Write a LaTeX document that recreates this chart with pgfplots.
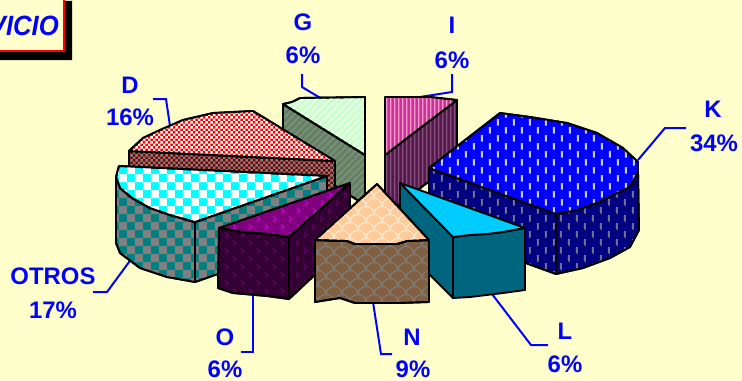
\documentclass[border=0pt]{standalone}
\usepackage{fontspec}
\setmainfont{Liberation Sans}
\usepackage{pgfplots}
\pgfplotsset{compat=1.18}
\usetikzlibrary{patterns}

\definecolor{paper}{HTML}{FFFFCC}
\definecolor{ink}{HTML}{0000FF}
\definecolor{pure}{HTML}{FF0000}
\definecolor{aqua}{HTML}{00FFFF}
\definecolor{gside}{HTML}{668066}
\definecolor{gsidep}{HTML}{7A927A}
\definecolor{gtop}{HTML}{CCFFCC}
\definecolor{gtopp}{HTML}{EAFFEA}
\definecolor{iside}{HTML}{55184D}
\definecolor{isidep}{HTML}{85507A}
\definecolor{itop}{HTML}{C8329B}
\definecolor{itopp}{HTML}{FF99CC}
\definecolor{dside}{HTML}{800000}
\definecolor{kside}{HTML}{000080}
\definecolor{ksidep}{HTML}{707094}
\definecolor{ktopp}{HTML}{CCCCFF}
\definecolor{oside}{HTML}{008080}
\definecolor{gray5}{HTML}{808080}
\definecolor{pside}{HTML}{330033}
\definecolor{psidep}{HTML}{660066}
\definecolor{ptop}{HTML}{800080}
\definecolor{ptopp}{HTML}{CC00CC}
\definecolor{lside}{HTML}{006680}
\definecolor{ltop}{HTML}{00CCFF}
\definecolor{nside}{HTML}{806040}
\definecolor{ntop}{HTML}{FFCC99}
\definecolor{ntopp}{HTML}{FFEEDD}

% checks
\pgfdeclarepatternformonly{bigcheck}{\pgfpointorigin}{\pgfqpoint{16pt}{16pt}}{\pgfqpoint{16pt}{16pt}}{%
  \pgfpathrectangle{\pgfpointorigin}{\pgfqpoint{8pt}{8pt}}%
  \pgfpathrectangle{\pgfqpoint{8pt}{8pt}}{\pgfqpoint{8pt}{8pt}}%
  \pgfusepath{fill}}
\pgfdeclarepatternformonly{smallcheck}{\pgfpointorigin}{\pgfqpoint{5.4pt}{5.4pt}}{\pgfqpoint{5.4pt}{5.4pt}}{%
  \pgfpathrectangle{\pgfpointorigin}{\pgfqpoint{2.7pt}{2.7pt}}%
  \pgfpathrectangle{\pgfqpoint{2.7pt}{2.7pt}}{\pgfqpoint{2.7pt}{2.7pt}}%
  \pgfusepath{fill}}
% K dashes
\pgfdeclarepatternformonly{dashes}{\pgfpointorigin}{\pgfqpoint{16pt}{16pt}}{\pgfqpoint{16pt}{16pt}}{%
  \pgfpathrectangle{\pgfqpoint{3pt}{0.5pt}}{\pgfqpoint{2pt}{6.5pt}}%
  \pgfpathrectangle{\pgfqpoint{11pt}{8.5pt}}{\pgfqpoint{2pt}{6.5pt}}%
  \pgfusepath{fill}}
% I stripes
\pgfdeclarepatternformonly{vstripes}{\pgfpointorigin}{\pgfqpoint{4pt}{4pt}}{\pgfqpoint{4pt}{4pt}}{%
  \pgfpathrectangle{\pgfpointorigin}{\pgfqpoint{1.4pt}{4pt}}%
  \pgfusepath{fill}}
% G stripes
\pgfdeclarepatternformonly{dstripes}{\pgfqpoint{-1pt}{-1pt}}{\pgfqpoint{8pt}{8pt}}{\pgfqpoint{7pt}{7pt}}{%
  \pgfsetlinewidth{1.6pt}%
  \pgfpathmoveto{\pgfqpoint{-1pt}{-1pt}}\pgfpathlineto{\pgfqpoint{8pt}{8pt}}%
  \pgfusepath{stroke}}
% O chevrons
\pgfdeclarepatternformonly{chevrons}{\pgfpointorigin}{\pgfqpoint{16pt}{16pt}}{\pgfqpoint{16pt}{16pt}}{%
  \pgfsetlinewidth{1.1pt}%
  \pgfpathmoveto{\pgfqpoint{2pt}{0.5pt}}\pgfpathlineto{\pgfqpoint{5pt}{3pt}}\pgfpathlineto{\pgfqpoint{2pt}{5.5pt}}%
  \pgfpathmoveto{\pgfqpoint{10pt}{8.5pt}}\pgfpathlineto{\pgfqpoint{13pt}{11pt}}\pgfpathlineto{\pgfqpoint{10pt}{13.5pt}}%
  \pgfusepath{stroke}}
% N scallops
\pgfdeclarepatternformonly{scallops}{\pgfqpoint{0pt}{0pt}}{\pgfqpoint{16pt}{16pt}}{\pgfqpoint{16pt}{16pt}}{%
  \pgfsetlinewidth{0.9pt}%
  \pgfpathmoveto{\pgfqpoint{0pt}{0pt}}\pgfpathcurveto{\pgfqpoint{0pt}{10pt}}{\pgfqpoint{16pt}{10pt}}{\pgfqpoint{16pt}{0pt}}%
  \pgfpathmoveto{\pgfqpoint{-8pt}{8pt}}\pgfpathcurveto{\pgfqpoint{-8pt}{18pt}}{\pgfqpoint{8pt}{18pt}}{\pgfqpoint{8pt}{8pt}}%
  \pgfpathmoveto{\pgfqpoint{8pt}{8pt}}\pgfpathcurveto{\pgfqpoint{8pt}{18pt}}{\pgfqpoint{24pt}{18pt}}{\pgfqpoint{24pt}{8pt}}%
  \pgfusepath{stroke}}

\tikzset{
  slice/.style n args={3}{draw=black,line width=1.9bp,line join=round,fill=#1,
    postaction={pattern=#2,pattern color=#3}},
  flat/.style={draw=black,line width=1.9bp,line join=round,fill=#1},
  leader/.style={draw=ink,line width=2bp,line join=miter},
  lab/.style={text=ink,font=\fontsize{24}{28}\selectfont\bfseries,inner sep=0pt,anchor=center}
}

\begin{document}
\begin{tikzpicture}
\begin{axis}[
  scale only axis, width=742bp, height=381bp,
  xmin=0, xmax=742, ymin=0, ymax=381, y dir=reverse,
  hide axis, clip=true
]
% background
\addplot[fill=paper,draw=none] coordinates {(0,0) (742,0) (742,381) (0,381)} --cycle;

% title box
\addplot[fill=black,draw=none] coordinates {(50,1) (72,1) (72,60) (0,60) (0,40)} --cycle;
\addplot[fill=paper,draw=pure,line width=2bp] coordinates {(-5,-5) (64,-5) (64,51) (-5,51)} --cycle;

% leaders
\addplot[leader] coordinates {(638,160) (665,128) (686,128)};
\addplot[leader] coordinates {(420,97) (452,92) (452,74)};
\addplot[leader] coordinates {(322,99) (302,87) (302,74)};
\addplot[leader] coordinates {(170,126) (166,99) (153,99)};
\addplot[leader] coordinates {(132,258) (107,292) (93,292)};
\addplot[leader] coordinates {(253,293) (253,352) (241,352)};
\addplot[leader] coordinates {(373,302) (381,354) (392,354)};
\addplot[leader] coordinates {(492,294) (531,345) (548,345)};

% G
\addplot[slice={gside}{dstripes}{gsidep}] coordinates {(283,104) (365,155) (365,205) (283,152)} --cycle;
\addplot[slice={gtop}{dstripes}{gtopp}] coordinates {(283,104) (292,102) (300,98) (365,97) (365,155)} --cycle;

% I
\addplot[slice={iside}{vstripes}{isidep}] coordinates {(385,155) (457,100) (457,160) (385,215)} --cycle;
\addplot[slice={itop}{vstripes}{itopp}] coordinates {(385,97) (430,97) (457,100) (385,155)} --cycle;

% D
\addplot[slice={dside}{smallcheck}{gray5}] coordinates {(129,151) (335,161) (335,195) (129,185)} --cycle;
\addplot[slice={pure}{smallcheck}{white}] coordinates {(129,151) (143,138) (160,130) (183,120) (213,113) (253,111) (335,161)} --cycle;

% K
\addplot[slice={kside}{dashes}{ksidep}] coordinates {(429,168) (556,214) (556,274) (429,228)} --cycle;
\addplot[slice={kside}{dashes}{ksidep}] coordinates {(556,214) (577,210) (597,203) (613,195) (630,187) (638,172) (639,230) (630,247) (610,258) (583,268) (556,274)} --cycle;
\addplot[slice={ink}{dashes}{ktopp}] coordinates {(429,168) (500,113) (530,117) (567,123) (597,133) (623,148) (638,162) (638,172) (630,187) (613,195) (597,203) (577,210) (556,214)} --cycle;

% OTROS
\addplot[slice={oside}{bigcheck}{gray5}] coordinates {(195,222) (327,176) (327,236) (195,282)} --cycle;
\addplot[slice={oside}{bigcheck}{gray5}] coordinates {(116,177) (120,188) (132,198) (150,208) (170,215) (195,222) (195,282) (167,277) (140,268) (120,253) (116,243)} --cycle;
\addplot[slice={aqua}{bigcheck}{white}] coordinates {(119,166) (327,176) (195,222) (170,215) (150,208) (132,198) (120,188) (116,177)} --cycle;

% O
\addplot[slice={pside}{chevrons}{psidep}] coordinates {(289,237) (350,183) (350,242) (289,299)} --cycle;
\addplot[slice={pside}{chevrons}{psidep}] coordinates {(219,228) (243,232) (267,234) (289,237) (289,299) (267,296) (233,293) (218,288)} --cycle;
\addplot[slice={ptop}{chevrons}{ptopp}] coordinates {(219,228) (350,183) (289,237) (267,234) (243,232)} --cycle;

% L
\addplot[flat=lside] coordinates {(400,183) (453,237) (453,298) (400,245)} --cycle;
\addplot[flat=lside] coordinates {(453,237) (470,235) (487,234) (503,232) (525,228) (525,290) (503,293) (470,297) (453,298)} --cycle;
\addplot[flat=ltop] coordinates {(400,183) (525,228) (503,232) (487,234) (470,235) (453,237)} --cycle;

% N
\addplot[slice={nside}{scallops}{gray5}] coordinates {(315,240) (347,241) (355,244) (397,244) (407,241) (429,240) (429,302) (400,303) (355,303) (340,298) (315,302)} --cycle;
\addplot[slice={ntop}{scallops}{ntopp}] coordinates {(377,184) (429,240) (407,241) (397,244) (355,244) (347,241) (315,240)} --cycle;

% labels
\node[lab] at (axis cs:303,22) {G};
\node[lab] at (axis cs:303,55) {6\%};
\node[lab] at (axis cs:452,25) {I};
\node[lab] at (axis cs:452,60) {6\%};
\node[lab] at (axis cs:130,85) {D};
\node[lab] at (axis cs:130,117) {16\%};
\node[lab] at (axis cs:713,109) {K};
\node[lab] at (axis cs:714,143) {34\%};
\node[lab] at (axis cs:53,276) {OTROS};
\node[lab] at (axis cs:53,310) {17\%};
\node[lab] at (axis cs:225,337) {O};
\node[lab] at (axis cs:225,369) {6\%};
\node[lab] at (axis cs:412,337) {N};
\node[lab] at (axis cs:413,369) {9\%};
\node[lab] at (axis cs:565,331) {L};
\node[lab] at (axis cs:565,364) {6\%};
\node[overlay,text=ink,inner sep=0pt,anchor=east,xscale=.92,font=\fontsize{28}{30}\selectfont\bfseries\itshape] at (axis cs:59,26) {VICIO};
\end{axis}
\end{tikzpicture}
\end{document}
